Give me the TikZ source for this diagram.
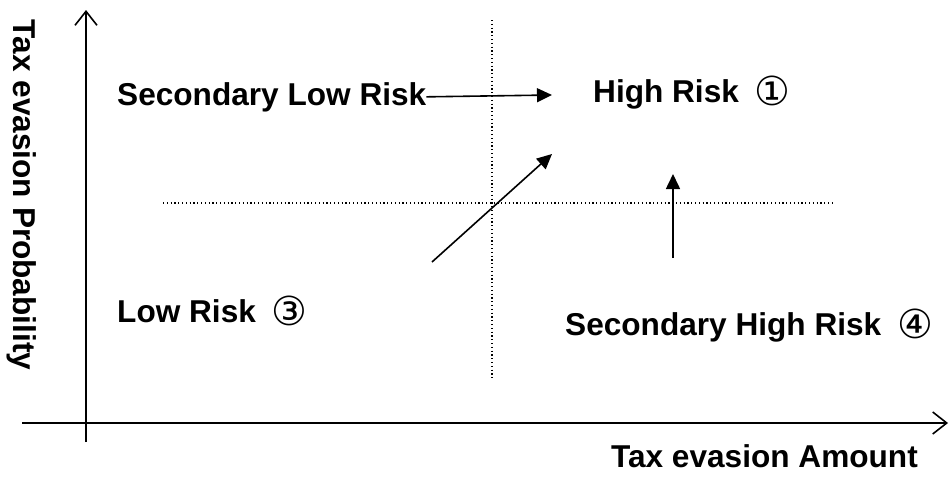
\documentclass[tikz,border=0pt]{standalone}
\usepackage{fontspec}
\setmainfont{Liberation Sans}
\newfontfamily\circfont{DejaVu Sans}
\usetikzlibrary{arrows.meta, positioning}

\tikzset{
  risk/.style={font=\bfseries\fontsize{31.6}{38}\selectfont, inner sep=0pt},
  axis/.style={line width=1.6pt, -{Straight Barb[length=14pt, width=22pt, line width=1.6pt]}},
  guide/.style={line width=1.2pt, dash pattern=on 1.2pt off 2.6pt},
  move/.style={line width=1.6pt, -{Triangle[length=15pt, width=14pt]}}
}
\newcommand{\circnum}[1]{\hspace{16pt}\raisebox{-3pt}{\circfont\mdseries\fontsize{40}{44}\selectfont #1}}

\begin{document}
\begin{tikzpicture}[x=1pt, y=-1pt]
\useasboundingbox (0,0) rectangle (950,480);

% Axes
\coordinate (xstart) at (22,423);
\coordinate (xend) at (948,423);
\coordinate (ystart) at (86,442);
\coordinate (yend) at (86,10);
\draw[axis] (xstart) -- (xend);
\draw[axis] (ystart) -- (yend);

% Quadrant guides
\coordinate (vtop) at (492,20);
\coordinate (vbot) at (492,380);
\coordinate (hleft) at (163,203);
\coordinate (hright) at (832,203);
\draw[guide] (vtop) -- (vbot);
\draw[guide] (hleft) -- (hright);

% Axis labels
\node[risk, anchor=base east] (xlab) at (918,467) {Tax evasion Amount};
\node[risk, rotate=-90, anchor=center] (ylab) at (22,195) {Tax evasion Probability};

% Risk levels
\node[risk, anchor=base west] (slr) at (117,105) {Secondary Low Risk};
\node[risk, anchor=base west] (hr) at (593,102) {High Risk\circnum{①}};
\node[risk, anchor=base west] (lr) at (117,322) {Low Risk\circnum{③}};
\node[risk, anchor=base west] (shr) at (565,335) {Secondary High Risk\circnum{④}};

% Movements towards high risk
\coordinate (slrto) at (552,95);
\coordinate (lrfrom) at (432,262);
\coordinate (lrto) at (552,154);
\coordinate (shrfrom) at (673,258);
\coordinate (shrto) at (673,174);
\draw[move] (slr.east) -- (slrto);
\draw[move] (lrfrom) -- (lrto);
\draw[move] (shrfrom) -- (shrto);
\end{tikzpicture}
\end{document}
